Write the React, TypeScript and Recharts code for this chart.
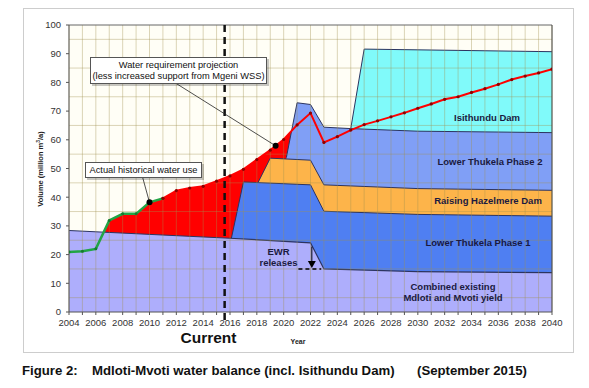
import {
  ComposedChart,
  Area,
  Line,
  XAxis,
  YAxis,
  CartesianGrid,
  ReferenceLine,
  ReferenceDot,
} from 'recharts';

// water requirement (million m3/a)
const histYears = [2004, 2005, 2006, 2007, 2008, 2009, 2010, 2011];
const histUse = [20.9, 21.2, 22.0, 31.9, 34.2, 34.2, 38.2, 39.6];

const projYears = [
  2011, 2012, 2013, 2014, 2015, 2016, 2017, 2018, 2019, 2020, 2021, 2022, 2023, 2024, 2025,
  2026, 2027, 2028, 2029, 2030, 2031, 2032, 2033, 2034, 2035, 2036, 2037, 2038, 2039, 2040,
];
const projUse = [
  39.6, 42.3, 43.2, 43.8, 45.6, 47.4, 49.7, 53.1, 56.4, 60.1, 65.2, 69.3, 59.1, 61.1, 63.4,
  65.3, 66.6, 68.0, 69.4, 71.0, 72.5, 74.1, 75.0, 76.5, 77.8, 79.3, 81.0, 82.2, 83.3, 84.6,
];

// supply, cumulative top of each band
const baseYears = [2004, 2016, 2022, 2023, 2030, 2040];
const baseTop = [28.4, 25.7, 24.1, 15.0, 14.1, 13.7];

const ltp1Years = [2016.1, 2017, 2022, 2023, 2030, 2040];
const ltp1Top = [25.6, 45.3, 44.3, 35.1, 34.0, 33.4];

const hazYears = [2018.1, 2019, 2022, 2023, 2030, 2040];
const hazTop = [45.2, 53.6, 52.9, 44.3, 43.0, 42.4];

const ltp2Years = [2020.2, 2021, 2022, 2023, 2025, 2030, 2040];
const ltp2Top = [53.8, 72.9, 72.3, 64.4, 63.9, 63.0, 62.5];

const isiYears = [2025, 2026, 2040];
const isiTop = [63.9, 91.6, 90.7];

const yearTicks = Array.from({ length: 37 }, (_, i) => 2004 + i);
const volTicks = [0, 10, 20, 30, 40, 50, 60, 70, 80, 90, 100];
const gridVols = [5, 10, 15, 20, 25, 30, 35, 40, 45, 50, 55, 60, 65, 70, 75, 80, 85, 90, 95];

const CURRENT = 2015.6;

const pts = (xs: number[], ys: number[]) => xs.map((x, i) => ({ x, y: ys[i] }));
const demand = pts([...histYears, ...projYears.slice(1)], [...histUse, ...projUse.slice(1)]);

const W = 589;
const H = 388;
const M = { top: 25, right: 37, left: 29, bottom: 56 };
const X0 = 69, X1 = 552, Y0 = 312, Y1 = 25;

const FONT = '"Liberation Sans", Arial, sans-serif';
const tick = { fill: '#333', fontSize: 9.5, fontFamily: FONT };
const edge = '#2c3460';

const arrowHead = (p: any) => (
  <polygon
    points={`${p.cx - 4},${p.cy - 7} ${p.cx + 4},${p.cy - 7} ${p.cx},${p.cy}`}
    fill="#000"
  />
);

const caption = { position: 'absolute' as const, top: 363, fontSize: 13.2, fontWeight: 'bold' as const, color: '#111', whiteSpace: 'nowrap' as const };
const box = {
  position: 'absolute' as const, boxSizing: 'border-box' as const, border: '1px solid #555', background: '#fff',
  boxShadow: '2px 2px 0 rgba(0,0,0,0.22)', fontSize: 9.3, textAlign: 'center' as const, color: '#111', whiteSpace: 'nowrap' as const,
};

export default function App() {
  return (
    <div style={{ position: 'absolute', left: 0, top: 0, width: W, height: H, background: '#fff', fontFamily: FONT }}>
      <div style={{ position: 'absolute', left: 23, top: 8, width: 549, height: 343, border: '1.5px solid #cdcdcd' }} />
      <div style={{ position: 'absolute', left: X0, top: Y1, width: X1 - X0, height: Y0 - Y1, background: '#fffef6' }} />
      <div style={{ position: 'absolute', left: 0, top: 0 }}>
        <ComposedChart width={W} height={H} margin={M}>
          <XAxis
            dataKey="x"
            type="number"
            domain={[2004, 2040]}
            ticks={yearTicks}
            interval={0}
            tickFormatter={(v: number) => (v % 2 === 0 ? String(v) : '')}
            tick={tick}
            tickSize={3}
            tickMargin={4}
            stroke="#555"
            height={20}
            allowDataOverflow
          />
          <YAxis
            type="number"
            domain={[0, 100]}
            ticks={volTicks}
            tick={tick}
            tickSize={3}
            tickMargin={5}
            stroke="#555"
            width={40}
            allowDataOverflow
          />
          <Area data={demand} dataKey="y" type="linear" fill="#ff0000" fillOpacity={1} stroke="none" isAnimationActive={false} />
          <Area data={pts(isiYears, isiTop)} dataKey="y" type="linear" fill="#80fafa" fillOpacity={1} stroke={edge} strokeWidth={1} isAnimationActive={false} />
          <Area data={pts(ltp2Years, ltp2Top)} dataKey="y" type="linear" fill="#809ff6" fillOpacity={1} stroke={edge} strokeWidth={1} isAnimationActive={false} />
          <Area data={pts(hazYears, hazTop)} dataKey="y" type="linear" fill="#fdb44a" fillOpacity={1} stroke={edge} strokeWidth={1} isAnimationActive={false} />
          <Area data={pts(ltp1Years, ltp1Top)} dataKey="y" type="linear" fill="#4f7ff2" fillOpacity={1} stroke={edge} strokeWidth={1} isAnimationActive={false} />
          <Area data={pts(baseYears, baseTop)} dataKey="y" type="linear" fill="#aeaefc" fillOpacity={1} stroke={edge} strokeWidth={1.2} isAnimationActive={false} />
          <CartesianGrid
            zIndex={150}
            stroke="#a09050"
            strokeOpacity={0.38}
            horizontalValues={gridVols}
            verticalValues={yearTicks}
          />
          <ReferenceLine y={100} stroke="#666" zIndex={160} />
          <ReferenceLine x={2040} stroke="#444" zIndex={160} />
          <Line data={pts(histYears, histUse)} dataKey="y" type="linear" stroke="#22a545" strokeWidth={2.5} dot={{ r: 1.5, fill: '#157a30', stroke: 'none' }} isAnimationActive={false} />
          <Line data={pts(projYears, projUse)} dataKey="y" type="linear" stroke="#ff0000" strokeWidth={2} dot={{ r: 1.6, fill: '#8b0000', stroke: 'none' }} isAnimationActive={false} />
          <ReferenceLine
            segment={[{ x: CURRENT, y: 100 }, { x: CURRENT, y: -4 }]}
            ifOverflow="visible"
            stroke="#111"
            strokeWidth={2.5}
            strokeDasharray="7 5"
            zIndex={700}
          />
          <ReferenceLine segment={[{ x: 2012.0, y: 79.6 }, { x: 2019.4, y: 57.9 }]} stroke="#222" strokeWidth={0.8} zIndex={700} />
          <ReferenceLine segment={[{ x: 2009.5, y: 46.7 }, { x: 2010, y: 38.2 }]} stroke="#222" strokeWidth={0.8} zIndex={700} />
          <ReferenceDot x={2019.4} y={57.9} r={3} fill="#000" stroke="none" zIndex={710} />
          <ReferenceDot x={2010} y={38.2} r={3} fill="#000" stroke="none" zIndex={710} />
          <ReferenceLine segment={[{ x: 2022.1, y: 22.8 }, { x: 2022.1, y: 17.5 }]} stroke="#000" strokeWidth={1} zIndex={700} />
          <ReferenceDot x={2022.1} y={15.3} shape={arrowHead} zIndex={710} />
          <ReferenceLine segment={[{ x: 2021.1, y: 15.0 }, { x: 2022.8, y: 15.0 }]} stroke="#000" strokeWidth={1.5} strokeDasharray="4 3" zIndex={700} />
        </ComposedChart>
      </div>

      <svg width={W} height={H} style={{ position: 'absolute', left: 0, top: 0, pointerEvents: 'none' }}>
        <g fontFamily={FONT} fontWeight="bold" fill="#1a1a40" fontSize={9.5} textAnchor="middle">
          <text x={487} y={121}>Isithundu Dam</text>
          <text x={490} y={164.5}>Lower Thukela Phase 2</text>
          <text x={488} y={203.5}>Raising Hazelmere Dam</text>
          <text x={478} y={246}>Lower Thukela Phase 1</text>
          <text x={453} y={290}>Combined existing</text>
          <text x={453} y={300.5}>Mdloti and Mvoti yield</text>
          <text x={278.5} y={255}>EWR</text>
          <text x={278.5} y={265.5}>releases</text>
        </g>
        <text x={208.5} y={342.5} fontFamily={FONT} fontWeight="bold" fontSize={15.5} textAnchor="middle" fill="#111">Current</text>
        <text x={298} y={343.5} fontFamily={FONT} fontWeight="bold" fontSize={7} textAnchor="middle" fill="#222">Year</text>
        <text
          transform="translate(42.5,169) rotate(-90)"
          fontFamily={FONT}
          fontWeight="bold"
          fontSize={7.5}
          textAnchor="middle"
          fill="#222"
        >
          Volume (million m<tspan fontSize={5} dy={-3}>3</tspan><tspan dy={3}>/a)</tspan>
        </text>
      </svg>

      <div style={{ ...box, left: 90, top: 57, width: 177, height: 27, lineHeight: '11.5px', paddingTop: 1.5 }}>
        Water requirement projection
        <br />
        (less increased support from Mgeni WSS)
      </div>
      <div style={{ ...box, left: 85, top: 162, width: 117, height: 16, lineHeight: '14px' }}>
        Actual historical water use
      </div>

      <div style={{ ...caption, left: 22 }}>Figure 2:</div>
      <div style={{ ...caption, left: 92 }}>Mdloti-Mvoti water balance (incl. Isithundu Dam)</div>
      <div style={{ ...caption, left: 417 }}>(September 2015)</div>
    </div>
  );
}
